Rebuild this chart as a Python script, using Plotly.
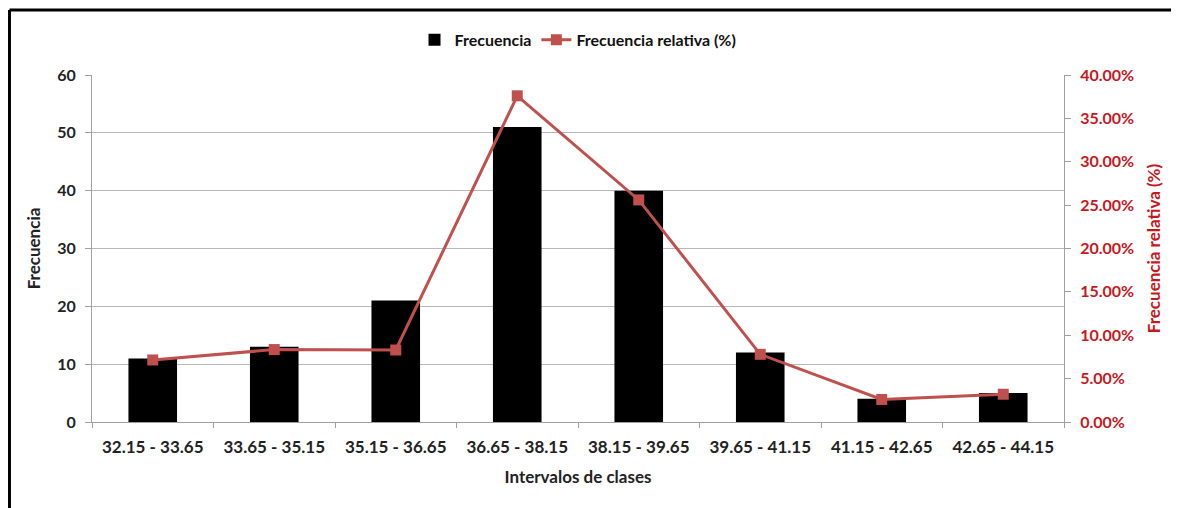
import plotly.graph_objects as go

categories = ["32.15 - 33.65", "33.65 - 35.15", "35.15 - 36.65", "36.65 - 38.15",
              "38.15 - 39.65", "39.65 - 41.15", "41.15 - 42.65", "42.65 - 44.15"]
frecuencia = [11, 13, 21, 51, 40, 12, 4, 5]
frec_relativa = [0.0715, 0.0835, 0.083, 0.376, 0.256, 0.078, 0.026, 0.032]

FONT = "Lato"
RED_TEXT = "#C8161D"
LINE_RED = "#C0504D"

fig = go.Figure()
fig.add_trace(go.Bar(x=categories, y=frecuencia, name="Frecuencia",
                     marker=dict(color="black", line=dict(width=0)), yaxis="y"))
fig.add_trace(go.Scatter(x=categories, y=frec_relativa, name="Frecuencia relativa (%)",
                         mode="lines+markers", yaxis="y2",
                         line=dict(color=LINE_RED, width=3),
                         marker=dict(symbol="square", size=11, color=LINE_RED)))

# the page adds an 8px body margin, so the figure is sized to fit the window
fig.update_layout(
    width=1171, height=500,
    margin=dict(l=84, r=115, t=67, b=86, autoexpand=False),
    paper_bgcolor="white", plot_bgcolor="white",
    bargap=0.6,
    font=dict(family=FONT, size=16, color="#222222"),
    showlegend=True,
    legend=dict(orientation="h", x=0.5, xanchor="center", y=1.101, yanchor="middle",
                bgcolor="rgba(0,0,0,0)",
                font=dict(size=16, color="#111111", weight="bold"), traceorder="normal",
                itemwidth=30),
    xaxis=dict(showline=True, linecolor="#A0A0A0", linewidth=1,
               ticks="outside", tickcolor="#A0A0A0", ticklen=5, tickson="boundaries",
               ticklabelstandoff=10,
               tickfont=dict(size=17, color="#222222", family=FONT, weight="bold"),
               title=dict(text="<b>Intervalos de clases</b>", font=dict(size=17), standoff=14)),
    yaxis=dict(range=[0, 60], dtick=10, showgrid=True, gridcolor="#B8B8B8", gridwidth=1,
               showline=True, linecolor="#A0A0A0", ticks="outside", tickcolor="#A0A0A0", ticklen=6,
               zeroline=False, ticklabelstandoff=6,
               tickfont=dict(size=16, color="#222222", family=FONT, weight="bold"),
               title=dict(text="<b>Frecuencia</b>", font=dict(size=17), standoff=12)),
    yaxis2=dict(range=[0, 0.40], dtick=0.05, tickformat=".2%", overlaying="y", side="right",
                showgrid=False, showline=True, linecolor="#A0A0A0", ticks="outside",
                tickcolor="#A0A0A0", ticklen=6, zeroline=False, ticklabelstandoff=6,
                tickfont=dict(size=16, color=RED_TEXT, family=FONT, weight="bold"),
                title=dict(text="<b>Frecuencia relativa (%)</b>", font=dict(size=17, color=RED_TEXT),
                           standoff=14)),
)

# frame lines (top and left), as in the reference screenshot
fig.add_shape(type="line", xref="paper", yref="paper",
              x0=-0.0849, x1=1.2, y0=1.1873, y1=1.1873,
              line=dict(color="black", width=3), layer="above")
fig.add_shape(type="line", xref="paper", yref="paper",
              x0=-0.0849, x1=-0.0849, y0=1.1873, y1=-0.3,
              line=dict(color="black", width=3), layer="above")

fig.write_html("out.html")
